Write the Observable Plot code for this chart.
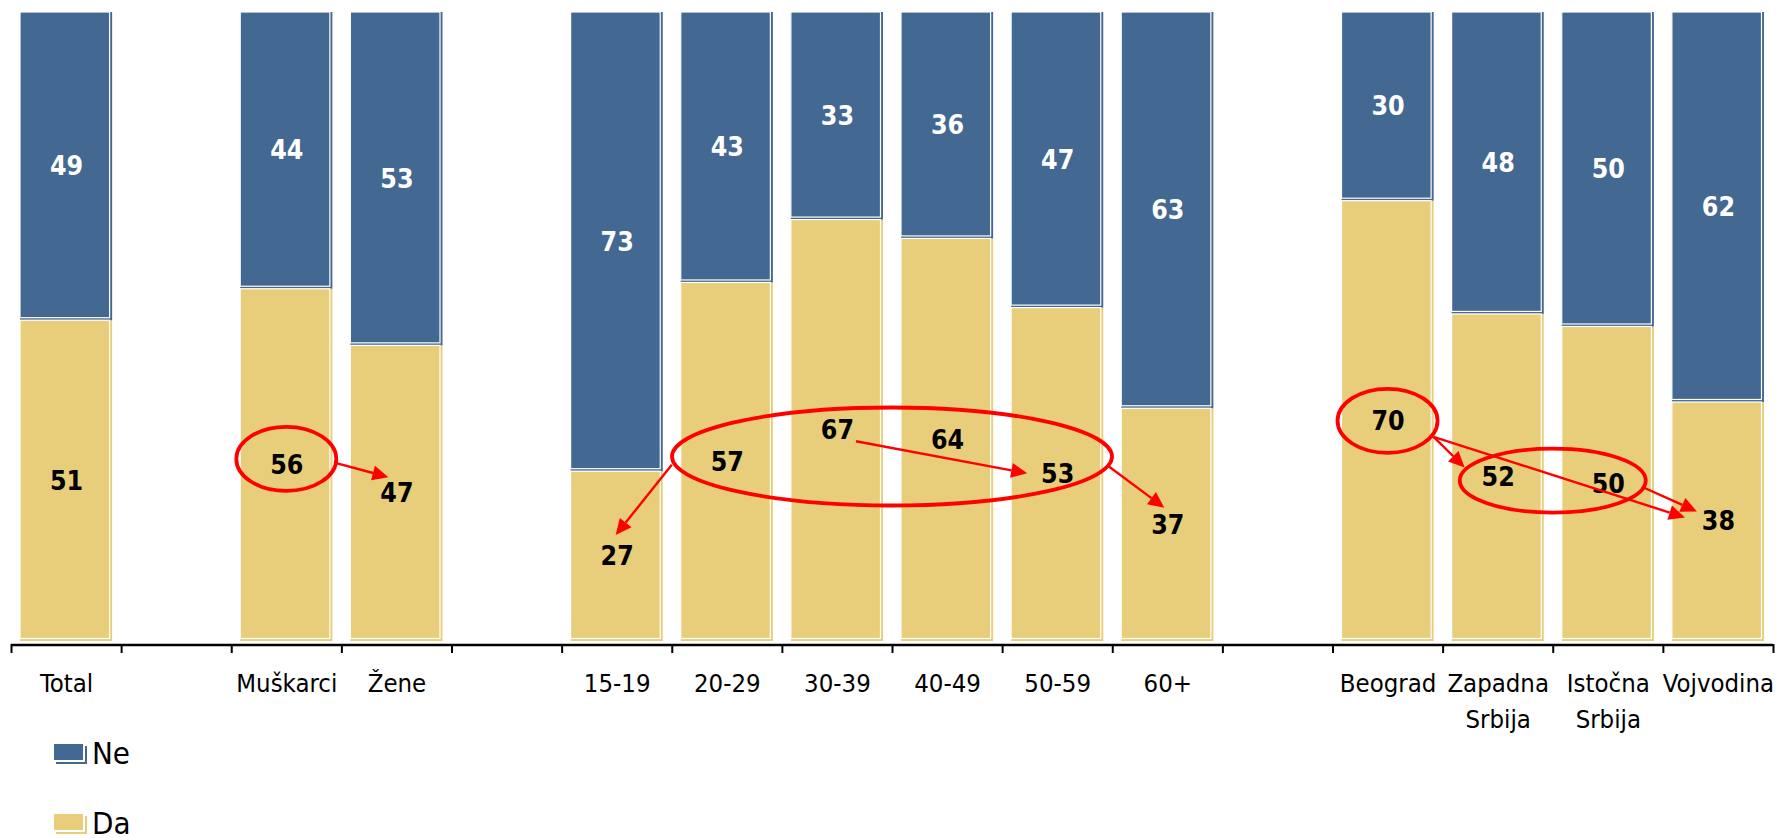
<!DOCTYPE html>
<html>
<head>
<meta charset="utf-8">
<script src="https://cdn.jsdelivr.net/npm/d3@7"></script>
<script src="https://cdn.jsdelivr.net/npm/@observablehq/plot@0.6"></script>
<style>
  body { margin: 0; background: #fff; font-family: "DejaVu Sans Condensed", "DejaVu Sans", sans-serif; }
  #legend { margin-left: 54px; margin-top: 3px; }
  .row { display: flex; align-items: center; height: 40px; font-size: 31px; color: #000; }
  .row + .row { margin-top: 30px; }
  .sw { width: 31px; height: 18px; margin-right: 7px; }
</style>
</head>
<body>
<div id="chart"></div>
<div id="legend"></div>
<script>
// ---- data ----
const categories = ["Total", "", "Muškarci", "Žene", "", "15-19", "20-29", "30-39", "40-49", "50-59", "60+", "", "Beograd", "Zapadna\nSrbija", "Istočna\nSrbija", "Vojvodina"];
const daValues = [51, null, 56, 47, null, 27, 57, 67, 64, 53, 37, null, 70, 52, 50, 38];
const neValues = [49, null, 44, 53, null, 73, 43, 33, 36, 47, 63, null, 30, 48, 50, 62];
const seriesNames = ["Da", "Ne"];
const seriesColors = ["#E8CE7A", "#436891"];
const labelColors = ["#000000", "#ffffff"];
const legendOrder = ["Ne", "Da"];

// annotations: ellipses around labels and arrows between labels
const ellipses = [
  {labels: ["Muškarci"], rx: 50, ry: 32, dy: -6},
  {labels: ["20-29", "30-39", "40-49", "50-59"], rx: 220, ry: 49, dy: 5},
  {labels: ["Beograd"], rx: 50, ry: 32, dy: 0},
  {labels: ["Zapadna\nSrbija", "Istočna\nSrbija"], rx: 93, ry: 32, dy: 0}
];
const arrows = [
  {from: "Muškarci", fdx: 49, fdy: -2, to: "Žene", tdx: -8, tdy: -16},
  {from: "20-29", fdx: -55, fdy: 3, to: "15-19", tdx: -1, tdy: -21},
  {from: "30-39", fdx: 19, fdy: 11, to: "50-59", tdx: -30, tdy: -1},
  {from: "50-59", fdx: 50, fdy: -9, to: "60+", tdx: -3, tdy: -17},
  {from: "Beograd", fdx: 46, fdy: 16, to: "Zapadna\nSrbija", tdx: -33, tdy: -10},
  {from: "Beograd", fdx: 46, fdy: 16, to: "Vojvodina", tdx: -33, tdy: -4},
  {from: "Istočna\nSrbija", fdx: 34, fdy: 3, to: "Vojvodina", tdx: -21, tdy: -10}
];

// ---- table ----
const rows = [];
categories.forEach((c, i) => {
  if (daValues[i] == null) return;
  rows.push({slot: i, cat: c, series: "Da", value: daValues[i]});
  rows.push({slot: i, cat: c, series: "Ne", value: neValues[i]});
});
const catRows = categories.map((c, i) => ({c, i})).filter(d => d.c !== "");

const W = 1777, H = 730;
const stackOpts = (extra) => Plot.stackY({x1: "slot", x2: d => d.slot + 1, y: "value", ...extra});

const plot = Plot.plot({
  width: W,
  height: H,
  marginLeft: 11,
  marginRight: 4,
  marginTop: 12,
  marginBottom: 89,
  style: {fontFamily: '"DejaVu Sans Condensed", "DejaVu Sans", sans-serif', fontSize: "25px", background: "#fff", overflow: "visible"},
  x: {type: "linear", domain: [0, categories.length], axis: null},
  y: {domain: [0, 100], axis: null},
  color: {domain: seriesNames, range: seriesColors},
  marks: [
    // outer colored edge (gives the offset edge look)
    Plot.rectY(rows, stackOpts({fill: "series", insetLeft: 9, insetRight: 9})),
    // main bar body with white inner edge
    Plot.rectY(rows, stackOpts({fill: "series", insetLeft: 9, insetRight: 11.5, insetBottom: 2.5, stroke: "#ffffff", strokeWidth: 1.2})),
    // value labels (stacked over all rows, shown per series)
    ...seriesNames.map((s, k) =>
      Plot.text(rows, Plot.stackY({
        x: d => d.slot + 0.5, y: "value",
        text: d => d.series === s ? String(d.value) : null,
        fill: labelColors[k], fontWeight: "bold", fontSize: 26.5
      }))
    ),
    // axis line
    Plot.ruleY([0], {dy: 3.5, stroke: "#000", strokeWidth: 2.5}),
    // ticks at slot boundaries
    Plot.axisX(d3.range(categories.length + 1), {anchor: "bottom", tickSize: 9, tickFormat: () => "", dy: 3, stroke: "#000", strokeWidth: 2, label: null}),
    // category labels
    Plot.text(catRows, {x: d => d.i + 0.5, frameAnchor: "bottom", text: "c", lineAnchor: "top", dy: 26, fontSize: 25.5, lineHeight: 1.38, fill: "#000"})
  ]
});

document.getElementById("chart").appendChild(plot);

// ---- annotations via the plot's scales ----
const xs = plot.scale("x"), ys = plot.scale("y");
function labelPos(cat) {
  const i = categories.indexOf(cat);
  return [xs.apply(i + 0.5), ys.apply(daValues[i] / 2)];
}
const svg = d3.select(plot);
const g = svg.append("g").attr("fill", "none").attr("stroke", "#FF0000");
ellipses.forEach(e => {
  const pts = e.labels.map(labelPos);
  const cx = d3.mean(pts, p => p[0]), cy = d3.mean(pts, p => p[1]) + e.dy;
  g.append("ellipse").attr("cx", cx).attr("cy", cy).attr("rx", e.rx).attr("ry", e.ry).attr("stroke-width", 3.8);
});
arrows.forEach(a => {
  const [fx, fy] = labelPos(a.from), [tx, ty] = labelPos(a.to);
  const x1 = fx + a.fdx, y1 = fy + a.fdy, x2 = tx + a.tdx, y2 = ty + a.tdy;
  const ang = Math.atan2(y2 - y1, x2 - x1), L = 16, hw = 7.5;
  const bx = x2 - L * Math.cos(ang), by = y2 - L * Math.sin(ang);
  g.append("line").attr("x1", x1).attr("y1", y1).attr("x2", bx).attr("y2", by).attr("stroke-width", 2.4);
  const px = -Math.sin(ang) * hw, py = Math.cos(ang) * hw;
  g.append("path").attr("d", `M${x2},${y2}L${bx + px},${by + py}L${bx - px},${by - py}Z`).attr("fill", "#FF0000").attr("stroke", "none");
});

// ---- legend ----
const legend = document.getElementById("legend");
legendOrder.forEach(name => {
  const k = seriesNames.indexOf(name);
  const row = document.createElement("div");
  row.className = "row";
  const sw = document.createElement("div");
  sw.className = "sw";
  sw.style.background = seriesColors[k];
  sw.style.boxShadow = `inset -2px -2px 0 #fff, 2px 2px 0 ${seriesColors[k]}`;
  row.appendChild(sw);
  const t = document.createElement("span");
  t.textContent = name;
  row.appendChild(t);
  legend.appendChild(row);
});
</script>
</body>
</html>
